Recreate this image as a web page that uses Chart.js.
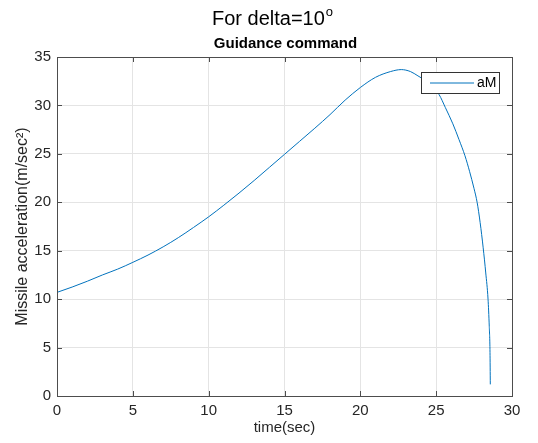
<!DOCTYPE html>
<html>
<head>
<meta charset="utf-8">
<title>Guidance command</title>
<script src="https://cdn.jsdelivr.net/npm/chart.js@4.4.1/dist/chart.umd.min.js"></script>
<style>
  html, body { margin: 0; padding: 0; background: #fff; }
  #wrap { width: 538px; height: 443px; }
</style>
</head>
<body>
<div id="wrap"><canvas id="chart" width="538" height="443"></canvas></div>
<script>
// ---- data ----
const timeSec = [0, 1, 2, 3, 4, 5, 6, 7, 8, 9, 10, 11, 12, 13, 14, 15, 16, 17, 18, 19, 20,
                 21, 22, 22.7, 23.3, 23.8, 24.3, 24.8, 25.2, 25.6, 26.1, 26.5, 26.9, 27.2,
                 27.5, 27.7, 27.9, 28.1, 28.27, 28.42, 28.5, 28.55, 28.57];
const aM      = [10.7, 11.25, 11.85, 12.5, 13.1, 13.8, 14.55, 15.4, 16.35, 17.4, 18.5,
                 19.7, 20.95, 22.25, 23.6, 24.95, 26.3, 27.65, 29.05, 30.55, 31.85,
                 32.9, 33.5, 33.7, 33.5, 33.05, 32.55, 31.85, 31.1, 29.8, 28.1, 26.5,
                 24.8, 23.2, 21.4, 20.0, 17.9, 15.3, 12.7, 10.0, 7.2, 4.5, 1.2];
const xTicks  = [0, 5, 10, 15, 20, 25, 30];
const yTicks  = [0, 5, 10, 15, 20, 25, 30, 35];
const seriesLabel = "aM";

const FONT = "'Liberation Sans', Arial, Helvetica, sans-serif";
const TEXT_COLOR = "#262626";
const AXIS_COLOR = "#4d4d4d";
const GRID_COLOR = "#e4e4e4";
const LINE_COLOR = "#0072BD";

// superscripted figure title + bold axes title (MATLAB sgtitle / title)
const titlesPlugin = {
  id: "titles",
  afterDraw(chart) {
    const ctx = chart.ctx;
    const a = chart.chartArea;
    ctx.save();
    ctx.fillStyle = "#000";
    ctx.textBaseline = "alphabetic";
    ctx.textAlign = "left";

    const main = "For delta=10", sup = "o";
    ctx.font = "20px " + FONT;
    const w1 = ctx.measureText(main).width;
    ctx.font = "13px " + FONT;
    const w2 = ctx.measureText(sup).width;
    const x0 = chart.width / 2 + 3 - (w1 + w2) / 2;
    ctx.font = "20px " + FONT;
    ctx.fillText(main, x0, 25);
    ctx.font = "13px " + FONT;
    ctx.fillText(sup, x0 + w1 + 1, 16);

    ctx.font = "bold 15px " + FONT;
    ctx.textAlign = "center";
    ctx.fillText("Guidance command", (a.left + a.right) / 2 + 1, 48);
    ctx.restore();
  }
};

// box around the axes with inward ticks on all four sides, then the legend
const axesBoxPlugin = {
  id: "axesBox",
  afterDatasetsDraw(chart) {
    const { ctx, chartArea: a, scales: { x, y } } = chart;
    const tl = 5;
    ctx.save();
    ctx.strokeStyle = AXIS_COLOR;
    ctx.lineWidth = 1;
    ctx.beginPath();
    xTicks.forEach(v => {
      const px = Math.round(x.getPixelForValue(v)) + 0.5;
      ctx.moveTo(px, a.bottom); ctx.lineTo(px, a.bottom - tl);
      ctx.moveTo(px, a.top);    ctx.lineTo(px, a.top + tl);
    });
    yTicks.forEach(v => {
      const py = Math.round(y.getPixelForValue(v)) + 0.5;
      ctx.moveTo(a.left, py);  ctx.lineTo(a.left + tl, py);
      ctx.moveTo(a.right, py); ctx.lineTo(a.right - tl, py);
    });
    ctx.stroke();
    ctx.strokeRect(Math.round(a.left) + 0.5, Math.round(a.top) + 0.5,
                   Math.round(a.right - a.left), Math.round(a.bottom - a.top));

    // legend
    const bx = 421, by = 72, bw = 78, bh = 21;
    ctx.fillStyle = "#fff";
    ctx.fillRect(bx, by, bw, bh);
    ctx.strokeStyle = "#333";
    ctx.strokeRect(bx + 0.5, by + 0.5, bw, bh);
    ctx.strokeStyle = LINE_COLOR;
    ctx.beginPath();
    ctx.moveTo(bx + 9, by + bh / 2 + 0.5);
    ctx.lineTo(bx + 53, by + bh / 2 + 0.5);
    ctx.stroke();
    ctx.fillStyle = "#000";
    ctx.font = "14px " + FONT;
    ctx.textBaseline = "middle";
    ctx.textAlign = "left";
    ctx.fillText(chart.data.datasets[0].label, bx + 56, by + bh / 2 + 1);
    ctx.restore();
  }
};

new Chart(document.getElementById("chart"), {
  type: "line",
  data: {
    datasets: [{
      label: seriesLabel,
      data: timeSec.map((t, i) => ({ x: t, y: aM[i] })),
      borderColor: LINE_COLOR,
      borderWidth: 1,
      pointRadius: 0,
      fill: false,
      cubicInterpolationMode: "monotone"
    }]
  },
  options: {
    responsive: false,
    devicePixelRatio: 1,
    animation: false,
    layout: { padding: { top: 57, right: 26, left: 0, bottom: 0 } },
    plugins: {
      legend: { display: false },
      tooltip: { enabled: false }
    },
    scales: {
      x: {
        type: "linear",
        min: 0, max: 30,
        afterFit: s => { s.height = 47; },
        afterBuildTicks: s => { s.ticks = xTicks.map(v => ({ value: v })); },
        grid: { color: GRID_COLOR, drawTicks: false },
        border: { display: false },
        ticks: { padding: 6, color: TEXT_COLOR, font: { family: FONT, size: 15 } },
        title: {
          display: true, text: "time(sec)", color: TEXT_COLOR,
          font: { family: FONT, size: 15 }, padding: { top: 0, bottom: 6 }
        }
      },
      y: {
        min: 0, max: 35,
        afterFit: s => { s.width = 57; },
        afterBuildTicks: s => { s.ticks = yTicks.map(v => ({ value: v })); },
        grid: { color: GRID_COLOR, drawTicks: false },
        border: { display: false },
        ticks: { padding: 6, color: TEXT_COLOR, font: { family: FONT, size: 15 } },
        title: {
          display: true, text: "Missile acceleration(m/sec²)", color: TEXT_COLOR,
          font: { family: FONT, size: 16 }, padding: { top: 13, bottom: 0 }
        }
      }
    }
  },
  plugins: [titlesPlugin, axesBoxPlugin]
});
</script>
</body>
</html>
